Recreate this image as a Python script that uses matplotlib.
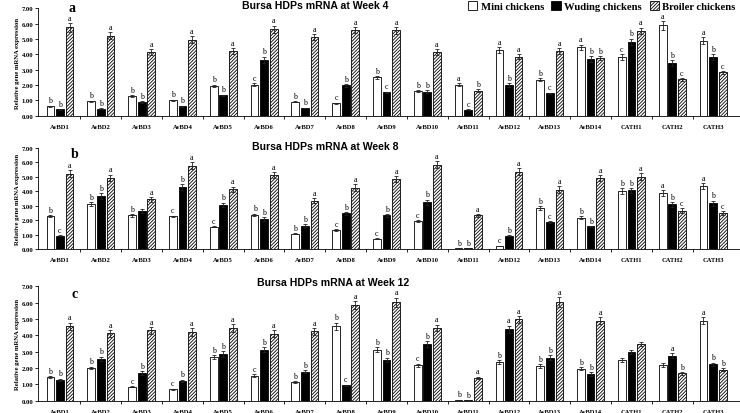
import matplotlib
matplotlib.use("Agg")
import matplotlib.pyplot as plt
from matplotlib.patches import Patch
import numpy as np

plt.rcParams['hatch.linewidth'] = 0.6

categories = ["AvBD1", "AvBD2", "AvBD3", "AvBD4", "AvBD5", "AvBD6", "AvBD7", "AvBD8", "AvBD9",
              "AvBD10", "AvBD11", "AvBD12", "AvBD13", "AvBD14", "CATH1", "CATH2", "CATH3"]
series_names = ["Mini chickens", "Wuding chickens", "Broiler chickens"]
yticks = [0, 1, 2, 3, 4, 5, 6, 7]

# Week 4
mini_w4 = [0.60, 0.93, 1.30, 1.00, 1.95, 2.02, 0.92, 0.80, 2.50, 1.60, 2.03, 4.28, 2.35, 4.45, 3.82, 5.88, 4.90]
wuding_w4 = [0.42, 0.45, 0.88, 0.62, 1.32, 3.65, 0.50, 1.97, 1.52, 1.56, 0.40, 2.00, 1.45, 3.68, 4.82, 3.42, 3.80]
broiler_w4 = [5.75, 5.22, 4.15, 4.95, 4.20, 5.62, 5.13, 5.56, 5.56, 4.15, 1.64, 3.85, 4.20, 3.75, 5.52, 2.36, 2.82]
mini_w4_err = [0.05, 0.05, 0.06, 0.05, 0.08, 0.08, 0.05, 0.05, 0.10, 0.08, 0.08, 0.18, 0.12, 0.18, 0.18, 0.28, 0.22]
wuding_w4_err = [0.03, 0.03, 0.05, 0.04, 0.06, 0.20, 0.03, 0.10, 0.05, 0.10, 0.03, 0.12, 0.05, 0.18, 0.20, 0.20, 0.20]
broiler_w4_err = [0.28, 0.25, 0.20, 0.22, 0.20, 0.25, 0.20, 0.20, 0.22, 0.20, 0.08, 0.18, 0.20, 0.15, 0.22, 0.10, 0.10]
mini_w4_sig = ["b", "b", "b", "b", "b", "c", "b", "c", "b", "b", "a", "a", "b", "a", "c", "a", "a"]
wuding_w4_sig = ["b", "b", "b", "b", "b", "b", "b", "b", "c", "b", "c", "b", "c", "b", "b", "b", "b"]
broiler_w4_sig = ["a", "a", "a", "a", "a", "a", "a", "a", "a", "a", "b", "a", "a", "b", "a", "c", "c"]

# Week 8
mini_w8 = [2.28, 3.10, 2.33, 2.26, 1.55, 2.38, 1.06, 1.33, 0.72, 1.92, 0.05, 0.22, 2.84, 2.18, 4.00, 3.86, 4.38]
wuding_w8 = [0.92, 3.70, 2.63, 4.28, 3.07, 2.06, 1.60, 2.47, 2.33, 3.25, 0.05, 0.92, 1.88, 1.56, 4.06, 3.10, 3.18]
broiler_w8 = [5.22, 4.94, 3.44, 5.78, 4.15, 5.12, 3.36, 4.26, 4.83, 5.85, 2.33, 5.35, 4.12, 4.90, 5.02, 2.66, 2.50]
mini_w8_err = [0.06, 0.15, 0.10, 0.06, 0.05, 0.08, 0.05, 0.05, 0.04, 0.08, 0.02, 0.02, 0.15, 0.10, 0.20, 0.20, 0.20]
wuding_w8_err = [0.04, 0.20, 0.15, 0.22, 0.15, 0.15, 0.10, 0.10, 0.10, 0.18, 0.02, 0.05, 0.08, 0.05, 0.18, 0.18, 0.18]
broiler_w8_err = [0.25, 0.22, 0.18, 0.25, 0.18, 0.22, 0.18, 0.22, 0.22, 0.25, 0.08, 0.25, 0.22, 0.22, 0.22, 0.15, 0.12]
mini_w8_sig = ["b", "b", "b", "c", "c", "b", "b", "c", "c", "c", "b", "c", "b", "b", "b", "a", "a"]
wuding_w8_sig = ["c", "b", "", "b", "b", "b", "b", "b", "b", "b", "b", "b", "c", "b", "b", "b", "b"]
broiler_w8_sig = ["a", "a", "a", "a", "a", "a", "a", "a", "a", "a", "a", "a", "a", "a", "a", "c", "c"]

# Week 12
mini_w12 = [1.43, 2.00, 0.85, 0.70, 2.65, 1.53, 1.12, 4.55, 3.12, 2.16, 0.05, 2.35, 2.12, 1.95, 2.48, 2.20, 4.90]
wuding_w12 = [1.27, 2.55, 1.70, 1.22, 2.84, 3.12, 1.78, 0.94, 2.51, 3.47, 0.03, 4.38, 2.62, 1.63, 3.00, 2.75, 2.22]
broiler_w12 = [4.55, 4.12, 4.30, 4.20, 4.45, 4.10, 4.24, 5.86, 6.02, 4.45, 1.41, 4.98, 6.02, 4.90, 3.47, 1.67, 1.90]
mini_w12_err = [0.06, 0.08, 0.04, 0.04, 0.12, 0.08, 0.06, 0.22, 0.15, 0.10, 0.02, 0.12, 0.10, 0.10, 0.12, 0.12, 0.22]
wuding_w12_err = [0.08, 0.15, 0.10, 0.06, 0.18, 0.15, 0.08, 0.05, 0.12, 0.18, 0.02, 0.22, 0.15, 0.10, 0.12, 0.15, 0.10]
broiler_w12_err = [0.22, 0.20, 0.20, 0.22, 0.22, 0.20, 0.20, 0.25, 0.28, 0.20, 0.06, 0.20, 0.30, 0.20, 0.15, 0.08, 0.08]
mini_w12_sig = ["b", "b", "c", "c", "b", "c", "b", "b", "b", "c", "b", "b", "b", "b", "", "", "a"]
wuding_w12_sig = ["b", "b", "b", "b", "b", "b", "b", "c", "b", "b", "b", "a", "b", "b", "", "a", "b"]
broiler_w12_sig = ["a", "a", "a", "a", "a", "a", "a", "a", "a", "a", "a", "a", "a", "a", "", "b", "b"]

panels = [
    ("a", "Bursa HDPs mRNA at Week 4", (mini_w4, wuding_w4, broiler_w4),
     (mini_w4_err, wuding_w4_err, broiler_w4_err), (mini_w4_sig, wuding_w4_sig, broiler_w4_sig)),
    ("b", "Bursa HDPs mRNA at Week 8", (mini_w8, wuding_w8, broiler_w8),
     (mini_w8_err, wuding_w8_err, broiler_w8_err), (mini_w8_sig, wuding_w8_sig, broiler_w8_sig)),
    ("c", "Bursa HDPs mRNA at Week 12", (mini_w12, wuding_w12, broiler_w12),
     (mini_w12_err, wuding_w12_err, broiler_w12_err), (mini_w12_sig, wuding_w12_sig, broiler_w12_sig)),
]

W, H = 740, 414
fig = plt.figure(figsize=(W / 100, H / 100), dpi=100)

axes_px = [(9.3, 116.7), (149.0, 250.0), (287.3, 401.7)]
letter_px = [(72, 8), (75, 155), (75, 294)]
title_px = [(315, 6), (325, 147), (333, 283)]
left_px, right_px = 38, 740

serif = ["Liberation Serif", "DejaVu Serif"]
sans = ["Liberation Sans", "DejaVu Sans"]

offsets = [-0.235, 0.0, 0.235]
bw = 0.19
styles = [
    dict(facecolor="white", edgecolor="black", hatch=None),
    dict(facecolor="black", edgecolor="black", hatch=None),
    dict(facecolor="white", edgecolor="black", hatch="//////////"),
]

x = np.arange(len(categories))
for p, (letter, title, vals, errs, sigs) in enumerate(panels):
    top, bot = axes_px[p]
    ax = fig.add_axes([left_px / W, 1 - bot / H, (right_px - left_px) / W, (bot - top) / H])
    for s in range(3):
        ax.bar(x + offsets[s], vals[s], width=bw, linewidth=0.6, zorder=2, **styles[s])
        ax.errorbar(x + offsets[s], vals[s], yerr=errs[s], fmt="none", ecolor="#222222",
                    elinewidth=0.6, capsize=1.6, capthick=0.6, zorder=3)
        for i in range(len(categories)):
            if sigs[s][i]:
                ax.text(x[i] + offsets[s], vals[s][i] + errs[s][i] + 0.08, sigs[s][i],
                        ha="center", va="bottom", fontsize=5.8, family=serif)
    ax.set_xlim(-0.539, 16.66)
    ax.set_ylim(0, 7)
    ax.set_yticks(yticks)
    ax.set_yticklabels([f"{v:.2f}" for v in yticks], fontsize=4.8, family=serif, fontweight="bold")
    ax.set_xticks(x)
    ax.set_xticklabels(categories, fontsize=4.7, family=serif, fontweight="bold")
    ax.set_xticks(x[:-1] + 0.5, minor=True)
    ax.tick_params(axis="x", which="major", length=0, pad=6)
    ax.tick_params(axis="x", which="minor", length=2.5, width=0.6, direction="out")
    ax.tick_params(axis="y", length=2, width=0.6, direction="out", pad=1.5)
    for side in ("top", "right"):
        ax.spines[side].set_visible(False)
    for side in ("left", "bottom"):
        ax.spines[side].set_linewidth(0.6)
    ax.set_ylabel("Relative gene mRNA expression", fontsize=4.8, family=serif, fontweight="bold", labelpad=1)
    lx, ly = letter_px[p]
    fig.text(lx / W, 1 - ly / H, letter, fontsize=10, family=serif, fontweight="bold", ha="center", va="center")
    tx, ty = title_px[p]
    fig.text(tx / W, 1 - ty / H, title, fontsize=7.6, family=sans, fontweight="bold", ha="center", va="center")

handles = [Patch(linewidth=0.6, **styles[s]) for s in range(3)]
fig.legend(handles, series_names, loc="upper right", bbox_to_anchor=(1.0, 1.0 + 2 / H), ncol=3, frameon=False,
           prop=dict(family=serif, weight="bold", size=7.7), handlelength=0.9, handleheight=0.9,
           handletextpad=0.3, columnspacing=0.7, borderaxespad=0.2, borderpad=0.2)

fig.savefig("out.png", dpi=100)
